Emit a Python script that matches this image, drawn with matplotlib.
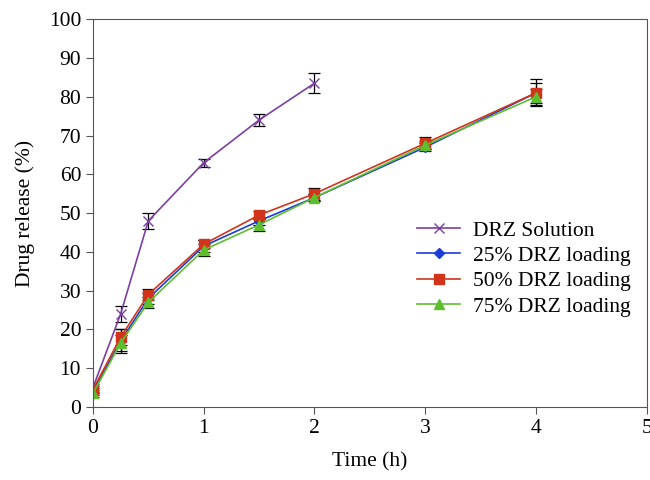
import numpy as np
import matplotlib.pyplot as plt

plt.rcParams['font.family'] = ['Liberation Serif', 'DejaVu Serif']

t_sol = [0, 0.25, 0.5, 1, 1.5, 2]
sol = [5, 24, 48, 63, 74, 83.5]
sol_err = [1, 2, 2, 1, 1.5, 2.5]

t_load = [0, 0.25, 0.5, 1, 1.5, 2, 3, 4]
load25 = [4, 17, 28, 41.5, 48, 54, 67, 81]
load50 = [4.5, 18, 29, 42, 49.5, 55, 68, 81]
load75 = [3.5, 16.5, 27, 40.5, 47, 54, 67.5, 80]
load25_err = [1, 3, 1.5, 1.5, 1, 1, 1, 3.5]
load50_err = [1, 2, 1.5, 1, 1, 1.5, 1.5, 2.5]
load75_err = [1, 2, 1.5, 1.5, 1.5, 1, 1, 2]

fig = plt.figure(figsize=(6.5, 4.8), dpi=100)
ax = fig.add_axes([0.143, 0.152, 0.852, 0.808])

eb = dict(ecolor='black', elinewidth=0.9, capsize=4, capthick=0.9)
ax.errorbar(t_sol, sol, yerr=sol_err, color='#7B3FA0', marker='x', ms=7,
            lw=1.2, label='DRZ Solution', **eb)
ax.errorbar(t_load, load25, yerr=load25_err, color='#1C3CD8', marker='D', ms=5,
            lw=1.2, label='25% DRZ loading', **eb)
ax.errorbar(t_load, load50, yerr=load50_err, color='#D0351C', marker='s', ms=7,
            lw=1.2, label='50% DRZ loading', **eb)
ax.errorbar(t_load, load75, yerr=load75_err, color='#5DBE2E', marker='^', ms=7,
            lw=1.2, label='75% DRZ loading', **eb)

ax.set_xlim(0, 5)
ax.set_ylim(0, 100)
ax.set_xticks(range(6))
ax.set_yticks(range(0, 101, 10))
ax.tick_params(direction='out', labelsize=15.5, length=5, color='#555555')
for s in ax.spines.values():
    s.set_color('#555555')
ax.set_xlabel('Time (h)', fontsize=15.5, labelpad=10)
ax.set_ylabel('Drug release (%)', fontsize=15.5, labelpad=10)

h, l = ax.get_legend_handles_labels()
h = [x[0] for x in h]
ax.legend(h, l, loc='upper left', bbox_to_anchor=(0.558, 0.52), frameon=False,
          fontsize=15.5, handlelength=2.0, borderpad=0.2, labelspacing=0.25,
          handletextpad=0.6)

fig.savefig('out.png', dpi=100)
